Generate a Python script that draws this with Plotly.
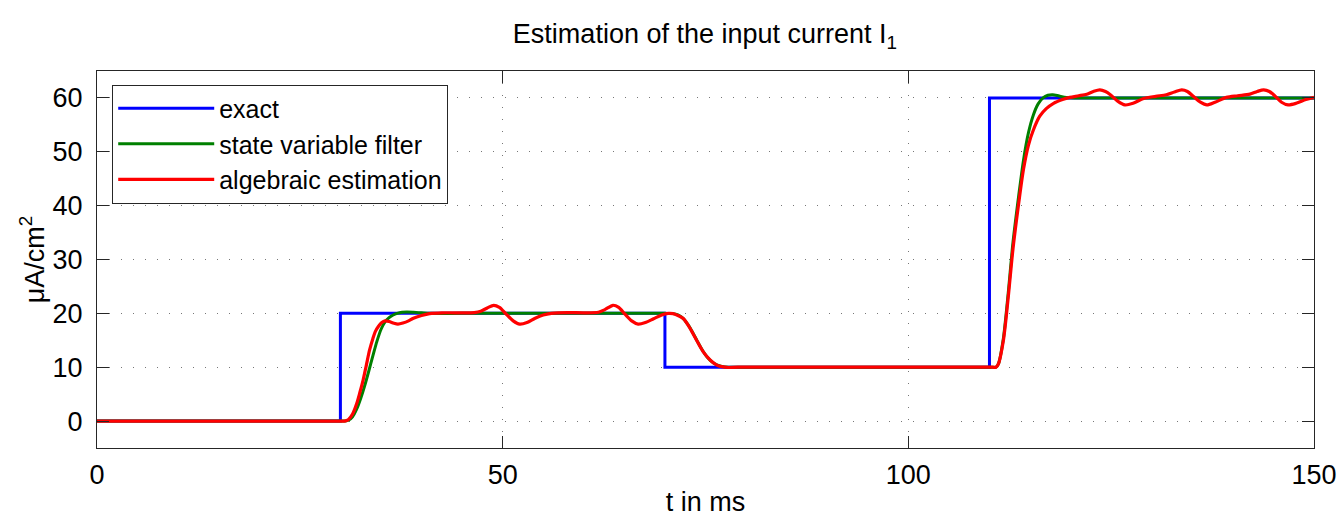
import plotly.graph_objects as go

# ---- data ----
t_exact = [0, 30, 30, 70, 70, 110, 110, 150]
i_exact = [0, 0, 20, 20, 10, 10, 60, 60]

t_svf = [0, 15.0, 29.6, 30.2, 30.6, 31.0, 31.5, 32.0, 32.5, 33.0, 33.5, 34.0, 34.5, 35.0,
         35.5, 36.0, 36.5, 37.0, 37.6, 38.2, 39.0, 40.0, 41.0, 45.0, 50.0, 55.0, 60.0,
         65.0, 69.0, 70.0, 71.0, 71.6, 72.2, 72.8, 73.4, 74.0, 74.6, 75.2, 75.8, 76.4,
         77.0, 77.8, 79.0, 85.0, 95.0, 105.0, 109.8, 110.4, 110.8, 111.1, 111.7, 112.3,
         112.9, 113.6, 114.2, 114.8, 115.4, 116.0, 116.6, 117.2, 117.8, 118.6, 119.5,
         121.0, 125.0, 135.0, 145.0, 150.0]
i_svf = [0, 0, 0, 0, 0, 0.15, 0.8, 2.2, 4.2, 6.6, 9.3, 12.1, 14.8, 17.0,
         18.4, 19.2, 19.7, 20.0, 20.2, 20.25, 20.2, 20.1, 20.0, 20.0, 20.0, 20.0, 20.0,
         20.0, 20.0, 20.0, 19.95, 19.7, 19.1, 18.0, 16.5, 14.8, 13.2, 11.9, 11.0, 10.45,
         10.15, 10.0, 10.0, 10.0, 10.0, 10.0, 10.0, 10.0, 10.0, 10.6, 15.2, 23.6,
         33.2, 41.8, 48.5, 53.5, 56.8, 58.9, 60.0, 60.5, 60.6, 60.35, 60.1,
         60.0, 60.0, 60.0, 60.0, 60.0]

t_alg = [0, 15.0, 29.6, 30.1, 30.5, 31.0, 31.5, 32.0, 32.4, 32.8, 33.2, 33.6, 34.0, 34.3,
         34.7, 35.1, 35.5, 36.0, 36.6, 37.1, 37.7, 38.4, 39.0, 40.0, 41.0, 42.5, 45.0,
         46.5, 47.3, 48.1, 48.9, 49.6, 50.4, 51.3, 52.1, 53.0, 54.0, 55.0, 56.0, 58.0,
         60.0, 61.8, 62.6, 63.6, 64.3, 65.1, 65.9, 66.7, 67.6, 68.6, 69.6, 70.4, 71.0,
         71.6, 72.3, 73.1, 73.9, 74.7, 75.6, 76.4, 77.0, 77.8, 79.0, 85.0, 95.0, 105.0,
         109.8, 110.4, 110.8, 111.1, 111.7, 112.3, 112.9, 113.6, 114.2, 114.8, 115.4,
         116.2, 117.0, 117.9, 119.0, 119.9, 121.0, 122.0, 122.8, 123.6, 124.3, 124.9,
         125.8, 126.7, 127.7, 129.0, 130.5, 131.8, 132.8, 133.7, 134.4, 135.2, 136.0,
         136.8, 137.8, 139.2, 140.6, 142.1, 143.0, 143.8, 144.5, 145.3, 146.0, 146.8,
         147.8, 149.0, 150.0]
i_alg = [0, 0, 0, 0, 0, 0.3, 1.3, 3.2, 5.3, 7.6, 10.4, 13.2, 15.3, 16.6,
         17.6, 18.3, 18.6, 18.5, 18.15, 18.0, 18.2, 18.6, 19.1, 19.6, 19.95, 20.1, 20.1,
         20.15, 20.4, 21.0, 21.5, 21.1, 19.9, 18.6, 18.0, 18.3, 19.1, 19.7, 20.0, 20.15,
         20.1, 20.2, 20.7, 21.5, 21.1, 19.8, 18.6, 18.0, 18.3, 19.0, 19.7, 20.0, 19.95,
         19.6, 19.0, 17.2, 15.0, 12.9, 11.3, 10.4, 10.1, 9.95, 10.0, 10.0, 10.0, 10.0,
         10.0, 10.0, 10.0, 10.6, 14.8, 22.8, 32.0, 40.4, 46.8, 51.2, 54.0,
         56.6, 58.0, 59.0, 59.7, 60.1, 60.4, 60.7, 61.2, 61.5, 61.2, 60.6,
         59.4, 58.7, 59.0, 59.9, 60.3, 60.6, 61.1, 61.5, 61.2, 60.2, 59.2,
         58.7, 59.2, 60.1, 60.4, 60.7, 61.2, 61.5, 61.2, 60.2, 59.2, 58.7,
         59.0, 59.7, 60.1]

x_ticks = [0, 50, 100, 150]
y_ticks = [0, 10, 20, 30, 40, 50, 60]

FONT = "Liberation Sans, Arial, Helvetica, sans-serif"

fig = go.Figure()
fig.add_trace(go.Scatter(x=t_exact, y=i_exact, mode="lines", name="exact",
                         line=dict(color="#0000FF", width=3)))
fig.add_trace(go.Scatter(x=t_svf, y=i_svf, mode="lines", name="state variable filter",
                         line=dict(color="#008000", width=3, shape="spline", smoothing=0.8)))
fig.add_trace(go.Scatter(x=t_alg, y=i_alg, mode="lines", name="algebraic estimation",
                         line=dict(color="#FF0000", width=3.2, shape="spline", smoothing=0.8)))

axis_common = dict(
    showline=True, linecolor="#262626", linewidth=1, mirror="ticks",
    ticks="inside", ticklen=12, tickwidth=1, tickcolor="#262626",
    showgrid=True, gridcolor="#777777", gridwidth=1, griddash="1px,11px",
    zeroline=False, automargin=False,
    tickfont=dict(size=27, color="black", family=FONT),
)

fig.update_layout(
    width=1339, height=517,
    margin=dict(l=97, r=25, t=71, b=69),
    paper_bgcolor="white", plot_bgcolor="white",
    font=dict(family=FONT, color="black", size=27),
    title=dict(text="Estimation of the input current I<sub>1</sub>",
               x=0.5265, xanchor="center", y=0.935, yanchor="middle",
               font=dict(size=27, family=FONT, color="black")),
    xaxis=dict(range=[0, 150], tickvals=x_ticks, ticklabelstandoff=3,
               title=dict(text="t in ms", font=dict(size=27), standoff=15),
               **axis_common),
    yaxis=dict(range=[-5, 65], tickvals=y_ticks, ticklabelstandoff=8,
               title=dict(text="μA/cm<sup>2</sup>", font=dict(size=27), standoff=0),
               **axis_common),
    legend=dict(x=0.0125, y=0.964, xanchor="left", yanchor="top",
                bgcolor="white", bordercolor="#262626", borderwidth=1,
                font=dict(size=25, family=FONT, color="black"),
                itemwidth=96, tracegroupgap=0),
    showlegend=True,
)

fig.write_html("out.html", config={"displayModeBar": False},
               post_script="document.body.style.margin='0';")
